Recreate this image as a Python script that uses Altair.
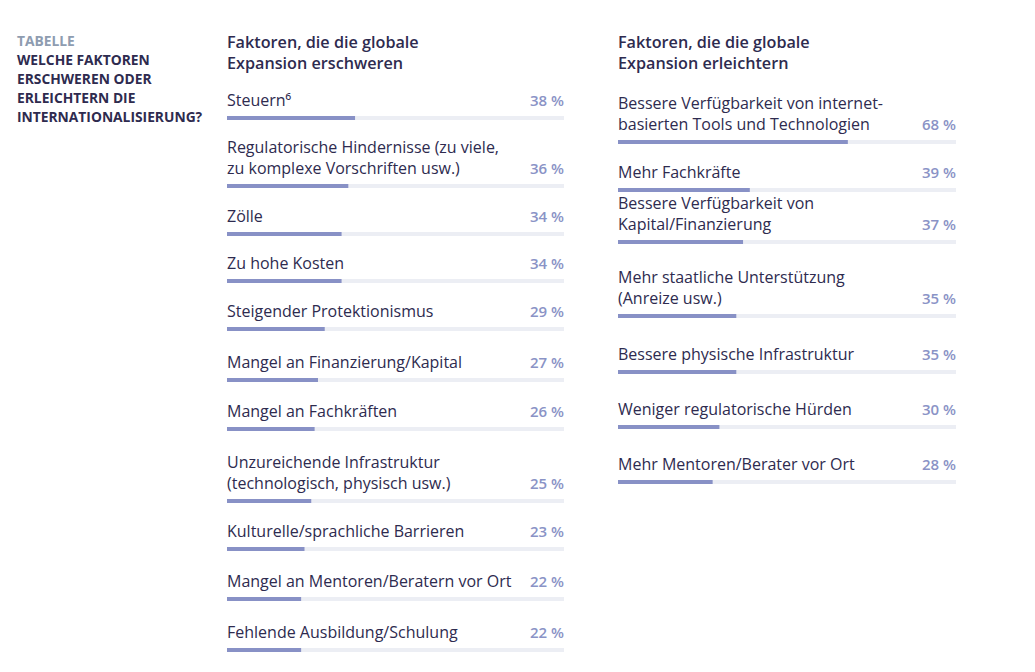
import altair as alt
import pandas as pd

# ---------------- data ----------------
left_heading = "Faktoren, die die globale\nExpansion erschweren"
left_labels = [
    "Steuern\u2076",
    "Regulatorische Hindernisse (zu viele,\nzu komplexe Vorschriften usw.)",
    "Zölle",
    "Zu hohe Kosten",
    "Steigender Protektionismus",
    "Mangel an Finanzierung/Kapital",
    "Mangel an Fachkräften",
    "Unzureichende Infrastruktur\n(technologisch, physisch usw.)",
    "Kulturelle/sprachliche Barrieren",
    "Mangel an Mentoren/Beratern vor Ort",
    "Fehlende Ausbildung/Schulung",
]
left_values = [38, 36, 34, 34, 29, 27, 26, 25, 23, 22, 22]

right_heading = "Faktoren, die die globale\nExpansion erleichtern"
right_labels = [
    "Bessere Verfügbarkeit von internet-\nbasierten Tools und Technologien",
    "Mehr Fachkräfte",
    "Bessere Verfügbarkeit von\nKapital/Finanzierung",
    "Mehr staatliche Unterstützung\n(Anreize usw.)",
    "Bessere physische Infrastruktur",
    "Weniger regulatorische Hürden",
    "Mehr Mentoren/Berater vor Ort",
]
right_values = [68, 39, 37, 35, 35, 30, 28]

title_kicker = "TABELLE"
title_text = "WELCHE FAKTOREN\nERSCHWEREN ODER\nERLEICHTERN DIE\nINTERNATIONALISIERUNG?"

# ---------------- layout ----------------
H = 650           # panel height (px)
TOP = 8           # page margin
LINE_H = 21
FONT = "Open Sans"
TEXT_COLOR = "#2e2b4f"
PCT_COLOR = "#8a93c6"
BAR_COLOR = "#8891c6"
TRACK_COLOR = "#eceef4"

# vertical layout: first bar position and gaps between consecutive bars
left_first = 118
left_gaps = [0, 68, 48, 47, 48, 51, 49, 72, 48, 50, 51]
right_first = 142
right_gaps = [0, 48, 52, 74, 56, 55, 55]


def positions(first, gaps):
    out, y = [], first
    for g in gaps:
        y += g
        out.append(y)
    return out


def rows(labels, values, bar_positions):
    recs = []
    for lab, val, by in zip(labels, values, bar_positions):
        n = lab.count("\n") + 1
        last_base = by - 12
        recs.append({
            "label": lab,
            "value": val,
            "pct": f"{val} %",
            "zero": 0,
            "full": 100,
            "bar_y": by - TOP,
            "label_y": last_base - LINE_H * (n - 1) - TOP,
            "pct_y": last_base - TOP,
        })
    return pd.DataFrame(recs)


left_df = rows(left_labels, left_values, positions(left_first, left_gaps))
right_df = rows(right_labels, right_values, positions(right_first, right_gaps))

yscale = alt.Scale(domain=[0, H], reverse=True)
xscale = alt.Scale(domain=[0, 100])


def panel(df, heading, width):
    base = alt.Chart(df)
    track = base.mark_rule(strokeWidth=4, color=TRACK_COLOR).encode(
        x=alt.X("zero:Q", scale=xscale, axis=None),
        x2="full:Q",
        y=alt.Y("bar_y:Q", scale=yscale, axis=None),
    )
    bar = base.mark_rule(strokeWidth=4, color=BAR_COLOR).encode(
        x=alt.X("zero:Q", scale=xscale, axis=None),
        x2="value:Q",
        y=alt.Y("bar_y:Q", scale=yscale, axis=None),
    )
    label = base.mark_text(
        align="left", baseline="alphabetic", lineBreak="\n", lineHeight=LINE_H,
        font=FONT, fontSize=16, fontWeight=500, color=TEXT_COLOR,
    ).encode(
        x=alt.X("zero:Q", scale=xscale, axis=None),
        y=alt.Y("label_y:Q", scale=yscale, axis=None),
        text="label:N",
    )
    pct = base.mark_text(
        align="right", baseline="alphabetic", font=FONT, fontSize=15,
        fontWeight=600, color=PCT_COLOR,
    ).encode(
        x=alt.X("full:Q", scale=xscale, axis=None),
        y=alt.Y("pct_y:Q", scale=yscale, axis=None),
        text="pct:N",
    )
    hdf = pd.DataFrame([{"t": heading, "x": 0, "y": 48 - TOP}])
    head = alt.Chart(hdf).mark_text(
        align="left", baseline="alphabetic", lineBreak="\n", lineHeight=LINE_H,
        font=FONT, fontSize=16.2, fontWeight=600, color=TEXT_COLOR,
    ).encode(
        x=alt.X("x:Q", scale=xscale, axis=None),
        y=alt.Y("y:Q", scale=yscale, axis=None),
        text="t:N",
    )
    return alt.layer(track, bar, label, pct, head).properties(width=width, height=H)


tdf = pd.DataFrame([{"t": title_kicker, "x": 0, "y": 46 - TOP}])
tdf2 = pd.DataFrame([{"t": title_text, "x": 0, "y": 65 - TOP}])
kicker = alt.Chart(tdf).mark_text(
    align="left", baseline="alphabetic", font=FONT, fontSize=13.8, fontWeight=700,
    color="#8e9cb0",
).encode(
    x=alt.X("x:Q", scale=alt.Scale(domain=[0, 100]), axis=None),
    y=alt.Y("y:Q", scale=yscale, axis=None),
    text="t:N",
)
title = alt.Chart(tdf2).mark_text(
    align="left", baseline="alphabetic", lineBreak="\n", lineHeight=19,
    font=FONT, fontSize=13.8, fontWeight=700, color=TEXT_COLOR,
).encode(
    x=alt.X("x:Q", scale=alt.Scale(domain=[0, 100]), axis=None),
    y=alt.Y("y:Q", scale=yscale, axis=None),
    text="t:N",
)
title_panel = alt.layer(kicker, title).properties(width=156, height=H)

chart = alt.hconcat(
    title_panel,
    panel(left_df, left_heading, 337),
    panel(right_df, right_heading, 338),
    spacing=54,
    bounds="flush",
    padding={"left": 9, "top": 0, "right": 0, "bottom": 0},
    background="white",
).configure_view(stroke=None)

chart.save("out.html", embed_options={"renderer": "svg", "actions": False})
